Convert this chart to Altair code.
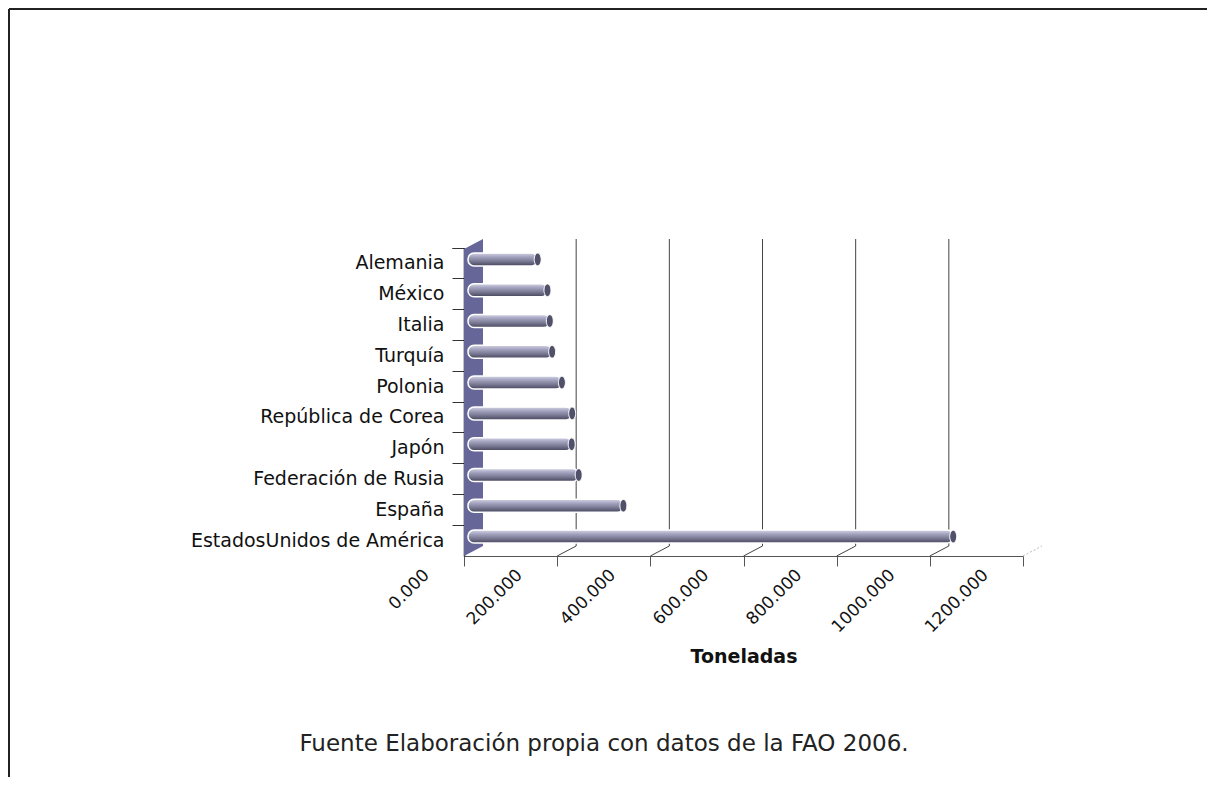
import altair as alt
import pandas as pd

# ---- data ----
paises = ["Alemania", "México", "Italia", "Turquía", "Polonia",
          "República de Corea", "Japón", "Federación de Rusia", "España",
          "EstadosUnidos de América"]
toneladas = [141000, 162000, 167000, 172000, 193000,
             215000, 214000, 229000, 325000, 1033000]
ticks_x = [0, 200000, 400000, 600000, 800000, 1000000, 1200000]
grid_x = [200000, 400000, 600000, 800000, 1000000]
edge_x = [1200000]

W, H = 559, 308       # plot area
DX, DY = 19, 10       # 3-D depth offset
PAD_L, PAD_T = 456, 240
SVG_W, SVG_H = 1199, 769

df = pd.DataFrame({"pais": paises, "t": toneladas})
xscale = alt.Scale(domain=[0, 1200000], nice=False, zero=True)
FONT = "DejaVu Sans"

xaxis = alt.Axis(
    values=ticks_x,
    labelExpr="format(datum.value/1000, 'd') + '.000'",
    labelAngle=-45, labelAlign="right", labelBaseline="middle",
    labelOffset=-38, labelPadding=6, labelFont=FONT, labelFontSize=17,
    labelColor="#111111", tickSize=10, tickColor="#555555",
    domainColor="#555555", domainWidth=1, grid=False,
    title="Toneladas", titleFont=FONT, titleFontSize=19,
    titleFontWeight="bold", titleColor="#111111",
    titleY=100, titleBaseline="middle",
)

# side wall (decoration, pixel space)
wall_df = pd.DataFrame({"px": [0, DX], "top": [1, 1 - DY], "bot": [H, H - DY]})
wall = alt.Chart(wall_df).mark_area(color="#666699", opacity=1).encode(
    x=alt.X("px:Q", scale=None),
    y=alt.Y("top:Q", scale=None),
    y2="bot:Q",
)

grid = alt.Chart(pd.DataFrame({"v": grid_x})).mark_rule(
    color="#444444", strokeWidth=1, xOffset=DX
).encode(
    x=alt.X("v:Q", scale=xscale, axis=xaxis),
    y=alt.value(1 - DY), y2=alt.value(H - DY),
)

diag = alt.Chart(pd.DataFrame({"v": grid_x})).mark_rule(
    color="#444444", strokeWidth=1, x2Offset=DX
).encode(
    x=alt.X("v:Q", scale=xscale, axis=xaxis), x2="v:Q",
    y=alt.value(H), y2=alt.value(H - DY),
)

diag_edge = alt.Chart(pd.DataFrame({"v": edge_x})).mark_rule(
    color="#bbbbbb", strokeWidth=1, strokeDash=[2, 2], x2Offset=DX
).encode(
    x=alt.X("v:Q", scale=xscale, axis=xaxis), x2="v:Q",
    y=alt.value(H), y2=alt.value(H - DY),
)

grad = alt.Gradient(
    gradient="linear", x1=0, x2=0, y1=0, y2=1,
    stops=[alt.GradientStop(color="#d4d4e6", offset=0),
           alt.GradientStop(color="#a4a4c0", offset=0.3),
           alt.GradientStop(color="#787892", offset=0.65),
           alt.GradientStop(color="#45455c", offset=1)],
)

yaxis = alt.Axis(
    title=None, labelFont=FONT, labelFontSize=19, labelColor="#111111",
    labelPadding=8, labelLimit=0, tickSize=12, tickColor="#333333",
    bandPosition=0, tickExtra=True, domainColor="#111111", domainWidth=1.5,
    grid=False,
)

bars = alt.Chart(df).mark_bar(
    size=13, fill=grad, stroke="white", strokeWidth=1.5,
    cornerRadius=6, xOffset=8, x2Offset=4, yOffset=-4,
).encode(
    x=alt.X("t:Q", scale=xscale, axis=xaxis, stack=None),
    x2=alt.datum(0),
    y=alt.Y("pais:N", sort=paises,
            scale=alt.Scale(paddingInner=0, paddingOuter=0), axis=yaxis),
)

ellipse = "M 0 -1 A 0.55 1 0 1 1 0 1 A 0.55 1 0 1 1 0 -1 Z"
caps = alt.Chart(df).mark_point(
    shape=ellipse, size=160, filled=True, fill="#50506a", stroke="white",
    strokeWidth=1, opacity=1, xOffset=8, yOffset=-4,
).encode(
    x=alt.X("t:Q", scale=xscale, axis=xaxis),
    y=alt.Y("pais:N", sort=paises, axis=yaxis),
)

one = pd.DataFrame({"a": [0]})
frame_top = alt.Chart(one).mark_rule(color="#222222", strokeWidth=2).encode(
    x=alt.value(1 - PAD_L), x2=alt.value(SVG_W - PAD_L), y=alt.value(1 - PAD_T)
)
frame_left = alt.Chart(one).mark_rule(color="#222222", strokeWidth=2).encode(
    x=alt.value(1 - PAD_L), y=alt.value(1 - PAD_T), y2=alt.value(SVG_H - PAD_T)
)

caption = alt.Chart(one).mark_text(
    font=FONT, fontSize=23, color="#222222", align="center", baseline="middle"
).encode(
    x=alt.value(140), y=alt.value(496),
    text=alt.value("Fuente Elaboración propia con datos de la FAO 2006."),
)

chart = alt.layer(
    wall, grid, diag, diag_edge, bars, caps, frame_top, frame_left, caption
).properties(
    width=W, height=H,
    background="white",
    autosize=alt.AutoSizeParams(type="none"),
    padding={"left": PAD_L, "top": PAD_T,
             "right": SVG_W - PAD_L - W, "bottom": SVG_H - PAD_T - H},
).configure_view(stroke=None, strokeWidth=0)

chart.save("out.html", embed_options={"renderer": "svg", "actions": False})
